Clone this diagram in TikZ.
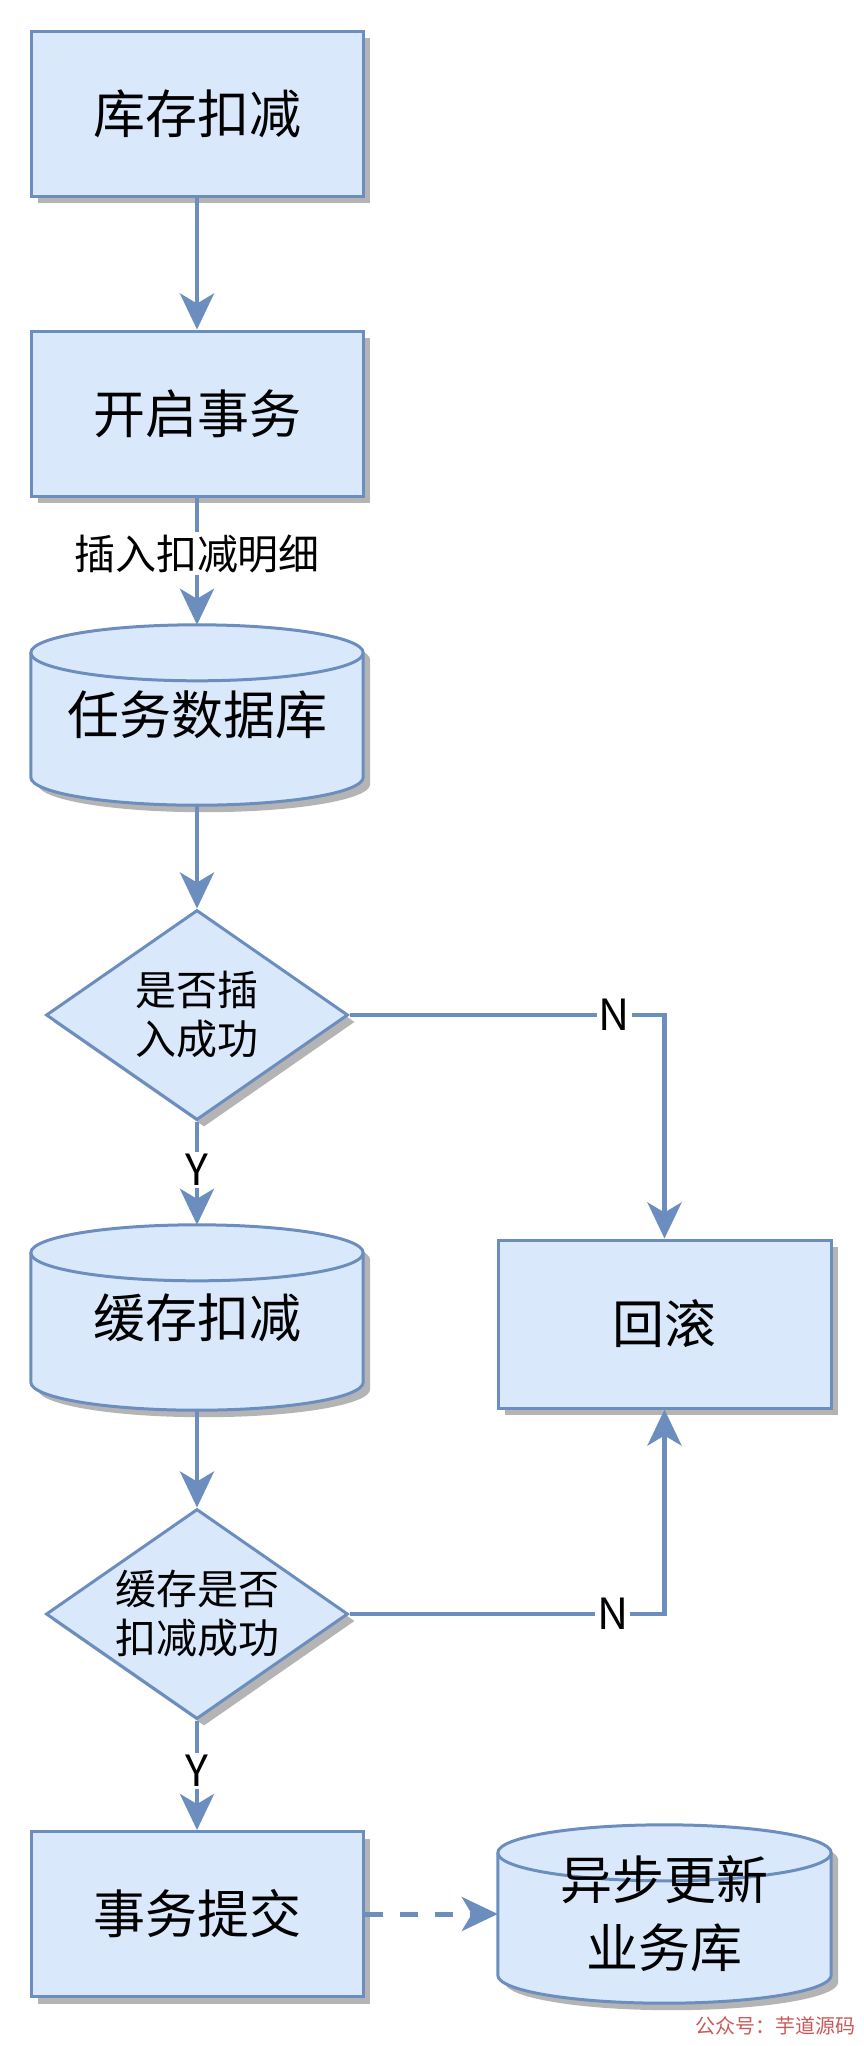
\documentclass[tikz,border=0pt]{standalone}
\usepackage{fontspec}
\setmainfont{Noto Sans CJK SC}
\usetikzlibrary{shapes.geometric,arrows.meta,calc,shadows}
\definecolor{fillblue}{HTML}{DAE8FC}
\definecolor{lineblue}{HTML}{6C8EBF}
\definecolor{shadowgray}{HTML}{B4B4B4}
\definecolor{wmred}{HTML}{C85A5A}
\pgfdeclarelayer{bg}
\pgfsetlayers{bg,main}
\newcommand{\drawcyl}[1]{%
  \fill[shadowgray] let \p1=(#1.north west), \p2=(#1.south east), \n1={(\x2-\x1)/2} in
    (\x1+7pt,\y1-35pt) -- (\x1+7pt,\y2+21pt) arc[start angle=180,end angle=360,x radius=\n1,y radius=28pt]
    -- (\x2+7pt,\y1-35pt) arc[start angle=0,end angle=180,x radius=\n1,y radius=28pt] -- cycle;
  \filldraw[fill=fillblue,draw=lineblue,line width=3pt] let \p1=(#1.north west), \p2=(#1.south east), \n1={(\x2-\x1)/2} in
    (\x1,\y1-28pt) -- (\x1,\y2+28pt) arc[start angle=180,end angle=360,x radius=\n1,y radius=28pt]
    -- (\x2,\y1-28pt) arc[start angle=0,end angle=180,x radius=\n1,y radius=28pt] -- cycle;
  \draw[lineblue,line width=3pt] let \p1=(#1.north west), \p2=(#1.south east), \n1={(\x2-\x1)/2} in
    (\x1,\y1-28pt) arc[start angle=180,end angle=360,x radius=\n1,y radius=28pt];
}
\begin{document}
\begin{tikzpicture}[x=1pt,y=1pt,
  shad/.style={drop shadow={shadow xshift=7pt,shadow yshift=-7pt,fill=shadowgray,opacity=1}},
  proc/.style={rectangle,draw=lineblue,line width=3pt,fill=fillblue,
    minimum width=332pt,minimum height=165pt,inner sep=0pt,
    font=\fontsize{52}{62}\selectfont,shad},
  dec/.style={diamond,draw=lineblue,line width=3pt,fill=fillblue,
    minimum width=302pt,minimum height=210pt,aspect=1.44,inner sep=0pt,
    align=center,font=\fontsize{41}{49}\selectfont,shad},
  db/.style={rectangle,minimum width=332pt,minimum height=180pt,inner sep=0pt,
    align=center,font=\fontsize{52}{68}\selectfont},
  flow/.style={draw=lineblue,line width=4.5pt,-{Stealth[length=36pt,width=34pt,inset=10pt]}},
  lab/.style={fill=white,inner sep=2pt,text=black,font=\fontsize{43}{43}\selectfont},
]
\useasboundingbox (0,0) rectangle (864,-2046);

\node[proc] (s1) at (197,-113.5) {库存扣减};
\node[proc] (s2) at (197,-413.5) {开启事务};
\node[db] (db1) at (197,-715) {任务数据库};
\node[dec] (d1) at (197,-1015) {是否插\\入成功};
\node[db,minimum height=185pt] (db2) at (197,-1317.5) {缓存扣减};
\node[proc,minimum width=333pt,minimum height=168pt] (rb) at (664.5,-1324) {回滚};
\node[dec] (d2) at (197,-1614) {缓存是否\\扣减成功};
\node[proc] (s3) at (197,-1914) {事务提交};
\node[db,minimum width=333pt,minimum height=178pt] (db3) at (664.5,-1914) {异步更新\\业务库};
\node[font=\fontsize{20}{20}\selectfont,text=wmred,anchor=east,inner sep=0pt] (wm) at (856,-2026) {公众号：芋道源码};

\begin{pgfonlayer}{bg}
  \fill[white] (0,0) rectangle (864,-2046);
  \drawcyl{db1}
  \drawcyl{db2}
  \drawcyl{db3}
\end{pgfonlayer}

\draw[flow] (s1) -- (s2);
\draw[flow] (s2) -- node[lab,pos=0.44,font=\fontsize{41}{41}\selectfont] (l1) {插入扣减明细} (db1);
\draw[flow] (db1) -- (d1);
\draw[flow] (d1) -- node[lab,pos=0.467] (y1) {Y} (db2);
\draw[flow] (db2) -- (d2);
\draw[flow] (d2) -- node[lab,pos=0.46] (y2) {Y} (s3);
\draw[flow] (d1.east) -| node[lab,pos=0.42] (n1) {N} (rb.north);
\draw[flow] (d2.east) -| node[lab,pos=0.418] (n2) {N} (rb.south);
\draw[flow,dash pattern=on 18pt off 17pt,line width=5pt] (s3) -- (db3);
\end{tikzpicture}
\end{document}
